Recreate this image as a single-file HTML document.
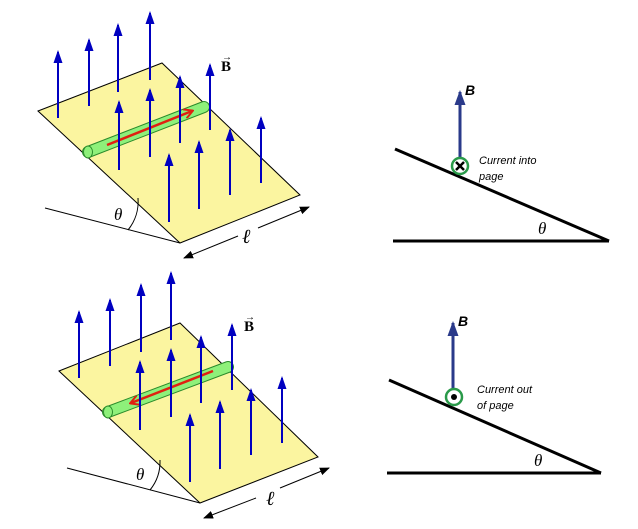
<!DOCTYPE html>
<html><head><style>html,body{margin:0;padding:0;background:#fff;}</style></head>
<body>
<svg width="638" height="524" viewBox="0 0 638 524" xmlns="http://www.w3.org/2000/svg">
<defs>
<marker id="ab" markerWidth="13" markerHeight="9" refX="11" refY="4.5" orient="auto" markerUnits="userSpaceOnUse">
<path d="M0,0 L13,4.5 L0,9 Z" fill="#0000c0"/></marker>
<marker id="ar" markerWidth="10" markerHeight="10" refX="8" refY="5" orient="auto" markerUnits="userSpaceOnUse">
<path d="M0,0 L9,5 L0,10" fill="none" stroke="#e02010" stroke-width="2"/></marker>
<marker id="ak" markerWidth="10" markerHeight="8" refX="9" refY="4" orient="auto" markerUnits="userSpaceOnUse">
<path d="M0,0 L10,4 L0,8 Z" fill="#000"/></marker>
<marker id="an" markerWidth="15" markerHeight="11" refX="13" refY="5.5" orient="auto" markerUnits="userSpaceOnUse">
<path d="M0,0 L15,5.5 L0,11 Z" fill="#2a3a8a"/></marker>
</defs>

<!-- Top left -->
<g>
<line x1="45" y1="208" x2="180" y2="243" stroke="#000" stroke-width="1"/>
<polygon points="38,111 162,63 300,195 180,243" fill="#fbf5a0" stroke="#000" stroke-width="1"/>
<path d="M138,198 A45,45 0 0 1 128,230" fill="none" stroke="#000" stroke-width="1"/>
<g stroke="#0000c0" stroke-width="2" marker-end="url(#ab)">
<line x1="58" y1="118" x2="58" y2="52"/>
<line x1="89" y1="106" x2="89" y2="40"/>
<line x1="118" y1="92" x2="118" y2="25"/>
<line x1="150" y1="80" x2="150" y2="13"/>
</g>
<line x1="88" y1="152" x2="204" y2="107" stroke="#2a8a2a" stroke-width="12" stroke-linecap="round"/>
<line x1="88" y1="152" x2="204" y2="107" stroke="#8ef07a" stroke-width="10" stroke-linecap="round"/>
<ellipse cx="88" cy="152" rx="4.5" ry="6" fill="#8ef07a" stroke="#2a8a2a" stroke-width="1"/>
<line x1="107" y1="145" x2="192" y2="111" stroke="#e02010" stroke-width="2.5" marker-end="url(#ar)"/>
<g stroke="#0000c0" stroke-width="2" marker-end="url(#ab)">
<line x1="119" y1="170" x2="119" y2="102"/>
<line x1="150" y1="157" x2="150" y2="90"/>
<line x1="180" y1="143" x2="180" y2="77"/>
<line x1="210" y1="130" x2="210" y2="65"/>
<line x1="169" y1="222" x2="169" y2="155"/>
<line x1="199" y1="209" x2="199" y2="142"/>
<line x1="230" y1="195" x2="230" y2="130"/>
<line x1="261" y1="183" x2="261" y2="118"/>
</g>
<line x1="238" y1="236" x2="184" y2="258" stroke="#000" stroke-width="1" marker-end="url(#ak)"/>
<line x1="258" y1="228" x2="309" y2="207" stroke="#000" stroke-width="1" marker-end="url(#ak)"/>
<text x="114" y="220" font-family="Liberation Serif, serif" font-style="italic" font-size="17">θ</text>
<text x="242" y="243" font-family="Liberation Serif, serif" font-style="italic" font-size="20">ℓ</text>
<text x="221" y="71" font-family="Liberation Serif, serif" font-weight="bold" font-size="15">B</text>
<text x="222" y="60" font-family="Liberation Serif, serif" font-size="10">→</text>
</g>

<!-- Bottom left -->
<g transform="translate(20,260)">
<line x1="47" y1="208" x2="180" y2="243" stroke="#000" stroke-width="1"/>
<polygon points="39,111 160,63 298,197 180,243" fill="#fbf5a0" stroke="#000" stroke-width="1"/>
<path d="M140,200 A45,45 0 0 1 130,230" fill="none" stroke="#000" stroke-width="1"/>
<g stroke="#0000c0" stroke-width="2" marker-end="url(#ab)">
<line x1="59" y1="118" x2="59" y2="52"/>
<line x1="90" y1="106" x2="90" y2="40"/>
<line x1="121" y1="92" x2="121" y2="25"/>
<line x1="151" y1="80" x2="151" y2="13"/>
</g>
<line x1="88" y1="152" x2="208" y2="107" stroke="#2a8a2a" stroke-width="12" stroke-linecap="round"/>
<line x1="88" y1="152" x2="208" y2="107" stroke="#8ef07a" stroke-width="10" stroke-linecap="round"/>
<ellipse cx="88" cy="152" rx="4.5" ry="6" fill="#8ef07a" stroke="#2a8a2a" stroke-width="1"/>
<line x1="193" y1="111" x2="111" y2="143" stroke="#e02010" stroke-width="2.5" marker-end="url(#ar)"/>
<g stroke="#0000c0" stroke-width="2" marker-end="url(#ab)">
<line x1="120" y1="170" x2="120" y2="102"/>
<line x1="151" y1="157" x2="151" y2="90"/>
<line x1="181" y1="143" x2="181" y2="77"/>
<line x1="212" y1="130" x2="212" y2="65"/>
<line x1="170" y1="222" x2="170" y2="155"/>
<line x1="200" y1="209" x2="200" y2="142"/>
<line x1="231" y1="195" x2="231" y2="130"/>
<line x1="262" y1="183" x2="262" y2="118"/>
</g>
<line x1="236" y1="238" x2="184" y2="258" stroke="#000" stroke-width="1" marker-end="url(#ak)"/>
<line x1="260" y1="228" x2="309" y2="208" stroke="#000" stroke-width="1" marker-end="url(#ak)"/>
<text x="116" y="220" font-family="Liberation Serif, serif" font-style="italic" font-size="17">θ</text>
<text x="246" y="245" font-family="Liberation Serif, serif" font-style="italic" font-size="20">ℓ</text>
<text x="224" y="71" font-family="Liberation Serif, serif" font-weight="bold" font-size="15">B</text>
<text x="225" y="60" font-family="Liberation Serif, serif" font-size="10">→</text>
</g>

<!-- Top right -->
<line x1="395" y1="149" x2="609" y2="241" stroke="#000" stroke-width="3"/>
<line x1="393" y1="241" x2="609" y2="241" stroke="#000" stroke-width="3"/>
<line x1="460" y1="158" x2="460" y2="92" stroke="#2a3a8a" stroke-width="3" marker-end="url(#an)"/>
<circle cx="460" cy="166" r="8" fill="#fff" stroke="#2a9a4a" stroke-width="2.5"/>
<path d="M456,162 L464,170 M464,162 L456,170" stroke="#000" stroke-width="2.5"/>
<text x="465" y="95" font-family="Liberation Sans, sans-serif" font-weight="bold" font-style="italic" font-size="14">B</text>
<text x="479" y="164" font-family="Liberation Sans, sans-serif" font-style="italic" font-size="11">Current into</text>
<text x="479" y="180" font-family="Liberation Sans, sans-serif" font-style="italic" font-size="11">page</text>
<text x="538" y="234" font-family="Liberation Serif, serif" font-style="italic" font-size="17">θ</text>

<!-- Bottom right -->
<line x1="389" y1="380" x2="601" y2="473" stroke="#000" stroke-width="3"/>
<line x1="387" y1="473" x2="601" y2="473" stroke="#000" stroke-width="3"/>
<line x1="453" y1="389" x2="453" y2="323" stroke="#2a3a8a" stroke-width="3" marker-end="url(#an)"/>
<circle cx="454" cy="397" r="8" fill="#fff" stroke="#2a9a4a" stroke-width="2.5"/>
<circle cx="454" cy="397" r="3" fill="#000"/>
<text x="458" y="326" font-family="Liberation Sans, sans-serif" font-weight="bold" font-style="italic" font-size="14">B</text>
<text x="477" y="393" font-family="Liberation Sans, sans-serif" font-style="italic" font-size="11">Current out</text>
<text x="477" y="409" font-family="Liberation Sans, sans-serif" font-style="italic" font-size="11">of page</text>
<text x="534" y="466" font-family="Liberation Serif, serif" font-style="italic" font-size="17">θ</text>
</svg>
</body></html>
